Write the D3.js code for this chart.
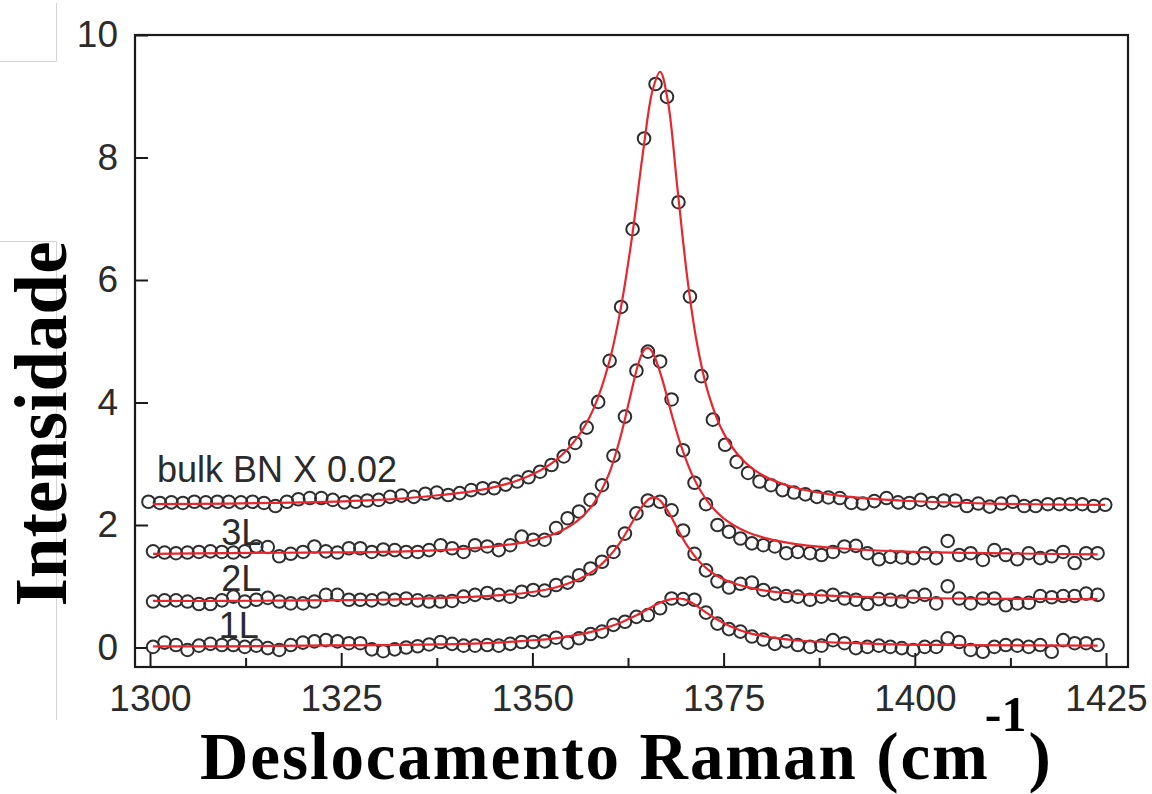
<!DOCTYPE html>
<html>
<head>
<meta charset="utf-8">
<script src="https://cdn.jsdelivr.net/npm/d3@7"></script>
<style>
  html, body { margin: 0; padding: 0; background: #fff; }
  svg { display: block; }
</style>
</head>
<body>
<svg id="chart" width="1152" height="794"></svg>
<script>
// Raman shift grids (cm^-1)
const shiftThin = [1300.4, 1301.9, 1303.4, 1304.9, 1306.4, 1307.9, 1309.4, 1310.9, 1312.4, 1313.9,
  1315.4, 1316.9, 1318.4, 1320.0, 1321.5, 1323.0, 1324.5, 1326.0, 1327.5, 1329.0,
  1330.5, 1332.0, 1333.5, 1335.0, 1336.5, 1338.0, 1339.5, 1341.0, 1342.5, 1344.1,
  1345.6, 1347.1, 1348.6, 1350.1, 1351.6, 1353.1, 1354.6, 1356.1, 1357.6, 1359.1,
  1360.6, 1362.1, 1363.6, 1365.1, 1366.7, 1368.2, 1369.7, 1371.2, 1372.7, 1374.2,
  1375.7, 1377.2, 1378.7, 1380.2, 1381.7, 1383.2, 1384.7, 1386.3, 1387.8, 1389.3,
  1390.8, 1392.3, 1393.8, 1395.3, 1396.8, 1398.3, 1399.8, 1401.3, 1402.8, 1404.3,
  1405.8, 1407.3, 1408.9, 1410.4, 1411.9, 1413.4, 1414.9, 1416.4, 1417.9, 1419.4,
  1420.9, 1422.4, 1423.9];

const shiftBulk = [1299.8, 1301.3, 1302.8, 1304.3, 1305.8, 1307.3, 1308.8, 1310.3, 1311.9, 1313.4,
  1314.9, 1316.4, 1317.9, 1319.4, 1320.9, 1322.4, 1323.9, 1325.4, 1326.9, 1328.4,
  1329.9, 1331.4, 1332.9, 1334.5, 1336.0, 1337.5, 1339.0, 1340.5, 1342.0, 1343.5,
  1345.0, 1346.5, 1348.0, 1349.5, 1351.0, 1352.5, 1354.1, 1355.6, 1357.1, 1358.6,
  1360.1, 1361.6, 1363.1, 1364.6, 1366.1, 1367.6, 1369.1, 1370.6, 1372.1, 1373.6,
  1375.2, 1376.7, 1378.2, 1379.7, 1381.2, 1382.7, 1384.2, 1385.7, 1387.2, 1388.7,
  1390.2, 1391.7, 1393.2, 1394.7, 1396.3, 1397.8, 1399.3, 1400.8, 1402.3, 1403.8,
  1405.3, 1406.8, 1408.3, 1409.8, 1411.3, 1412.8, 1414.3, 1415.8, 1417.4, 1418.9,
  1420.4, 1421.9, 1423.4, 1424.9];

// Measured intensities (offset for display); bulk BN scaled by 0.02
const bulkY = [2.38, 2.36, 2.37, 2.36, 2.38, 2.37, 2.38, 2.38, 2.37, 2.38,
  2.36, 2.31, 2.38, 2.42, 2.44, 2.44, 2.41, 2.37, 2.38, 2.40,
  2.41, 2.46, 2.48, 2.46, 2.51, 2.53, 2.49, 2.52, 2.57, 2.60,
  2.60, 2.66, 2.71, 2.78, 2.87, 2.98, 3.12, 3.34, 3.59, 4.01,
  4.68, 5.56, 6.83, 8.31, 9.20, 8.99, 7.27, 5.73, 4.43, 3.72,
  3.31, 3.03, 2.85, 2.71, 2.65, 2.57, 2.53, 2.50, 2.46, 2.45,
  2.44, 2.36, 2.35, 2.39, 2.44, 2.37, 2.36, 2.41, 2.36, 2.40,
  2.40, 2.31, 2.35, 2.30, 2.35, 2.38, 2.31, 2.31, 2.34, 2.34,
  2.34, 2.34, 2.31, 2.33];

const layer3Y = [1.57, 1.55, 1.54, 1.55, 1.56, 1.57, 1.56, 1.55, 1.57, 1.65,
  1.64, 1.49, 1.53, 1.56, 1.65, 1.57, 1.55, 1.62, 1.62, 1.56,
  1.60, 1.59, 1.56, 1.56, 1.59, 1.67, 1.62, 1.56, 1.67, 1.65,
  1.59, 1.67, 1.81, 1.76, 1.76, 1.95, 2.11, 2.22, 2.41, 2.65,
  3.13, 3.77, 4.52, 4.83, 4.67, 4.05, 3.22, 2.69, 2.34, 2.00,
  1.89, 1.78, 1.70, 1.67, 1.65, 1.54, 1.56, 1.54, 1.51, 1.56,
  1.65, 1.66, 1.54, 1.44, 1.48, 1.47, 1.46, 1.54, 1.46, 1.74,
  1.51, 1.54, 1.43, 1.59, 1.51, 1.44, 1.54, 1.46, 1.49, 1.56,
  1.38, 1.54, 1.54];

const layer2Y = [0.75, 0.77, 0.77, 0.75, 0.71, 0.71, 0.77, 0.83, 0.75, 0.78,
  0.81, 0.75, 0.72, 0.72, 0.75, 0.86, 0.86, 0.78, 0.78, 0.77,
  0.80, 0.78, 0.80, 0.77, 0.75, 0.75, 0.76, 0.83, 0.86, 0.89,
  0.86, 0.83, 0.91, 0.94, 0.93, 1.02, 1.06, 1.18, 1.29, 1.40,
  1.56, 1.86, 2.19, 2.40, 2.38, 2.24, 1.91, 1.53, 1.26, 1.08,
  0.98, 1.04, 1.06, 0.94, 0.88, 0.84, 0.83, 0.78, 0.83, 0.86,
  0.80, 0.78, 0.71, 0.79, 0.78, 0.75, 0.83, 0.86, 0.72, 1.00,
  0.80, 0.72, 0.80, 0.80, 0.69, 0.72, 0.73, 0.84, 0.82, 0.84,
  0.84, 0.88, 0.86];

const layer1Y = [0.01, 0.08, 0.04, -0.04, 0.03, 0.06, 0.04, 0.04, 0.01, 0.03,
  -0.01, -0.04, 0.04, 0.08, 0.10, 0.12, 0.10, 0.07, 0.07, -0.03,
  -0.06, -0.03, 0.00, 0.02, 0.05, 0.09, 0.06, 0.03, 0.03, 0.04,
  0.03, 0.06, 0.09, 0.09, 0.10, 0.16, 0.08, 0.15, 0.22, 0.26,
  0.37, 0.42, 0.50, 0.53, 0.64, 0.80, 0.79, 0.78, 0.57, 0.39,
  0.30, 0.26, 0.18, 0.13, 0.06, 0.10, 0.04, 0.01, 0.03, 0.12,
  0.07, -0.01, 0.01, 0.03, 0.01, -0.01, -0.04, 0.01, 0.01, 0.15,
  0.09, -0.04, -0.07, 0.01, 0.04, 0.03, 0.01, 0.04, -0.07, 0.12,
  0.07, 0.07, 0.04];

// Lorentzian fit curves
const fitBulkX = [1300.4, 1310, 1320, 1330, 1338, 1344, 1349, 1353, 1356, 1358, 1360, 1361.5, 1363,
  1364.5, 1365.7, 1366.7, 1367.7, 1369, 1370.3, 1371.5, 1373, 1375, 1377.5, 1380, 1384, 1390, 1398, 1410, 1424.9];
const fitBulkY = [2.34, 2.35, 2.37, 2.41, 2.49, 2.59, 2.77, 3.05, 3.45, 3.90, 4.64, 5.50, 6.68,
  8.12, 9.09, 9.40, 8.93, 7.45, 5.99, 4.98, 4.15, 3.50, 3.06, 2.82, 2.62, 2.48, 2.40, 2.35, 2.33];

const fit3LX = [1300.4, 1310, 1320, 1330, 1338, 1344, 1349, 1353, 1356, 1358, 1360, 1361.5, 1362.7, 1363.8,
  1364.5, 1365.0, 1365.4, 1366, 1367, 1368.2, 1369.5, 1371, 1373, 1375, 1378, 1381, 1385, 1390, 1398, 1410, 1423.9];
const fit3LY = [1.53, 1.54, 1.55, 1.56, 1.59, 1.64, 1.72, 1.86, 2.08, 2.35, 2.83, 3.43, 4.05, 4.61,
  4.84, 4.89, 4.87, 4.74, 4.37, 3.81, 3.27, 2.79, 2.37, 2.11, 1.89, 1.77, 1.68, 1.62, 1.57, 1.54, 1.52];

const fit2LX = [1300.4, 1310, 1320, 1330, 1338, 1344, 1349, 1353, 1356, 1358, 1360, 1361.5, 1362.8, 1364,
  1365.2, 1365.9, 1366.6, 1367.8, 1369, 1370.3, 1372, 1374, 1376.5, 1379.5, 1383, 1388, 1395, 1405, 1423.9];
const fit2LY = [0.76, 0.76, 0.77, 0.78, 0.81, 0.84, 0.89, 0.98, 1.11, 1.25, 1.48, 1.72, 1.99, 2.24,
  2.42, 2.45, 2.41, 2.21, 1.93, 1.65, 1.38, 1.18, 1.04, 0.95, 0.89, 0.85, 0.82, 0.80, 0.79];

const fit1LX = [1300.4, 1310, 1320, 1330, 1338, 1344, 1349, 1353, 1356, 1358.5, 1361, 1363, 1365, 1366.8,
  1368.2, 1369, 1369.8, 1371, 1372.5, 1374, 1376, 1378.5, 1381.5, 1385, 1390, 1397, 1407, 1423.9];
const fit1LY = [0.02, 0.02, 0.03, 0.04, 0.05, 0.07, 0.11, 0.15, 0.21, 0.28, 0.38, 0.49, 0.62, 0.74,
  0.79, 0.80, 0.79, 0.72, 0.59, 0.47, 0.34, 0.23, 0.16, 0.11, 0.08, 0.05, 0.04, 0.03];

const xTicks = [1300, 1325, 1350, 1375, 1400, 1425];
const xMinorTicks = [1312.5, 1337.5, 1362.5, 1387.5, 1412.5];
const yTicks = [0, 2, 4, 6, 8, 10];

const seriesLabels = [
  { text: "bulk BN X 0.02", x: 1300.9, y: 2.70 },
  { text: "3L", x: 1309.3, y: 1.67 },
  { text: "2L", x: 1309.3, y: 0.93 },
  { text: "1L", x: 1309.0, y: 0.15 }
];

// ---- drawing ----
const svg = d3.select("#chart");
const frame = { left: 135, right: 1128, top: 35, bottom: 667 };

const x = d3.scaleLinear().domain([1300, 1425]).range([150, 1106]);
const y = d3.scaleLinear().domain([0, 10]).range([647.5, 35]);

svg.append("rect").attr("width", 1152).attr("height", 794).attr("fill", "#fff");

// faint panel edges at the far left
const edge = svg.append("g").attr("stroke", "#d4d4d4").attr("stroke-width", 1).attr("fill", "none");
edge.append("path").attr("d", "M0,61.5H56.5V3");
edge.append("path").attr("d", "M0,241.5H56.5V720");

const tickFont = "'Liberation Sans', Arial, Helvetica, sans-serif";

// x axis (ticks point inward)
const gx = svg.append("g").attr("transform", `translate(0,${frame.bottom})`)
  .call(d3.axisBottom(x).tickValues(xTicks).tickSizeInner(-14).tickSizeOuter(0).tickPadding(18)
    .tickFormat(d3.format("d")));
gx.select(".domain").remove();
gx.selectAll("line").attr("stroke", "#1a1a1a").attr("stroke-width", 2);
gx.selectAll("text").attr("font-family", tickFont).attr("font-size", 37).attr("fill", "#2b2b2b");

const gxm = svg.append("g").attr("transform", `translate(0,${frame.bottom})`)
  .call(d3.axisBottom(x).tickValues(xMinorTicks).tickSizeInner(-9).tickSizeOuter(0).tickFormat(""));
gxm.select(".domain").remove();
gxm.selectAll("line").attr("stroke", "#1a1a1a").attr("stroke-width", 2);

// y axis
const gy = svg.append("g").attr("transform", `translate(${frame.left},0)`)
  .call(d3.axisLeft(y).tickValues(yTicks).tickSizeInner(-13).tickSizeOuter(0).tickPadding(17));
gy.select(".domain").remove();
gy.selectAll("line").attr("stroke", "#1a1a1a").attr("stroke-width", 2);
gy.selectAll("text").attr("font-family", tickFont).attr("font-size", 37).attr("fill", "#2b2b2b");

// plot frame
svg.append("rect")
  .attr("x", frame.left).attr("y", frame.top)
  .attr("width", frame.right - frame.left).attr("height", frame.bottom - frame.top)
  .attr("fill", "none").attr("stroke", "#1a1a1a").attr("stroke-width", 2.2);

// series labels
svg.append("g").selectAll("text").data(seriesLabels).join("text")
  .attr("x", d => x(d.x)).attr("y", d => y(d.y))
  .attr("font-family", tickFont).attr("font-size", 36).attr("fill", "#2b2b2b")
  .text(d => d.text);

// data points
const series = [
  { xs: shiftBulk, ys: bulkY },
  { xs: shiftThin, ys: layer3Y },
  { xs: shiftThin, ys: layer2Y },
  { xs: shiftThin, ys: layer1Y }
];
const pts = svg.append("g").attr("fill", "none").attr("stroke", "#2e2e2e").attr("stroke-width", 2);
series.forEach(s => {
  const data = s.xs.map((v, i) => [v, s.ys[i]]).filter(d => d[1] !== undefined);
  pts.append("g").selectAll("circle").data(data).join("circle")
    .attr("cx", d => x(d[0])).attr("cy", d => y(d[1])).attr("r", 6.3);
});

// fit lines
const fits = [
  [fitBulkX, fitBulkY], [fit3LX, fit3LY], [fit2LX, fit2LY], [fit1LX, fit1LY]
];
const line = d3.line().x(d => x(d[0])).y(d => y(d[1])).curve(d3.curveCatmullRom.alpha(0.5));
svg.append("g").selectAll("path").data(fits).join("path")
  .attr("d", f => line(f[0].map((v, i) => [v, f[1][i]])))
  .attr("fill", "none").attr("stroke", "#e8262d").attr("stroke-width", 2.2);

// axis titles
const titleFont = "'Liberation Serif', 'Times New Roman', Times, serif";
svg.append("text")
  .attr("transform", "translate(66,424) rotate(-90)")
  .attr("text-anchor", "middle")
  .attr("font-family", titleFont).attr("font-weight", "bold").attr("font-size", 73).attr("fill", "#000")
  .text("Intensidade");

const xt = svg.append("text")
  .attr("x", 200).attr("y", 779)
  .attr("font-family", titleFont).attr("font-weight", "bold").attr("font-size", 67)
  .attr("fill", "#000");
xt.append("tspan").attr("letter-spacing", 1.9).text("Deslocamento Raman (cm");
xt.append("tspan").attr("dx", -5).attr("dy", -48).attr("font-size", 50).text("-1");
xt.append("tspan").attr("dx", 2).attr("dy", 48).text(")");
</script>
</body>
</html>
